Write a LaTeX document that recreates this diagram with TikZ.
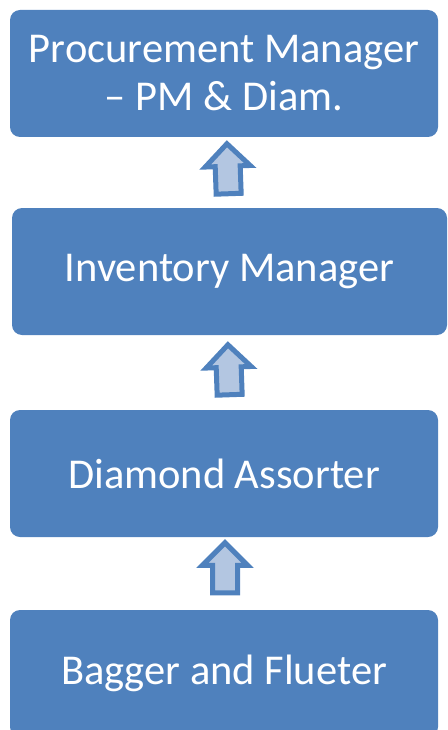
\documentclass[tikz,border=0pt]{standalone}
\usepackage{fontspec}
\setmainfont{Carlito}
\usetikzlibrary{shapes.arrows}
\definecolor{boxblue}{HTML}{4F81BD}
\definecolor{arrowfill}{HTML}{B3C6E1}
\tikzset{
    stage/.style={fill=boxblue,rounded corners=10pt,minimum width=428pt,minimum height=127pt,
        text=white,align=center,font=\fontsize{42.5}{48}\selectfont},
    uparrow/.style={single arrow,rotate=92,draw=boxblue,line width=5pt,fill=arrowfill,
        inner sep=10pt,single arrow head extend=10pt,single arrow tip angle=90,minimum height=50pt}
}
\begin{document}
\begin{tikzpicture}[x=1pt,y=-1pt]
    \useasboundingbox (0,0) rectangle (447,730);
    \node[stage] (proc) at (224,73.5) {Procurement Manager\\ -- PM \& Diam.};
    \node[stage,minimum width=435pt] (inv) at (229.5,271.5) {Inventory Manager};
    \node[stage] (assort) at (224,473.5) {Diamond Assorter};
    \node[stage] (bagger) at (224,673.5) {Bagger and Flueter};

    \node[uparrow] (up1) at (228,175) {};
    \node[uparrow] (up2) at (229,376) {};
    \node[uparrow,rotate=-2] (up3) at (225,574) {};
\end{tikzpicture}
\end{document}
